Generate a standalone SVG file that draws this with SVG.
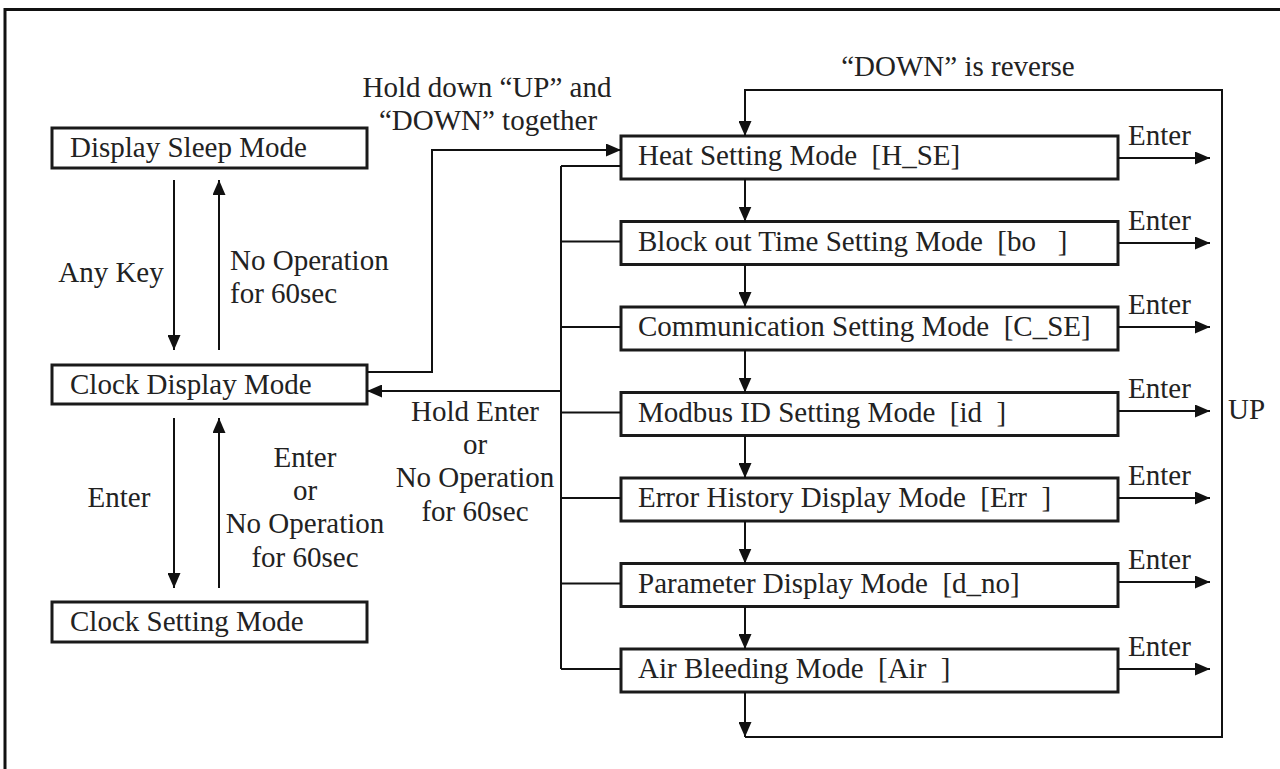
<svg xmlns="http://www.w3.org/2000/svg" width="1280" height="769" viewBox="0 0 1280 769">
<style>
text{font-family:"Liberation Serif","Times New Roman",serif;font-size:29px;fill:#222;white-space:pre}
.c{text-anchor:middle}
.box{fill:#fff;stroke:#1a1a1a;stroke-width:3}
.ln{fill:none;stroke:#111;stroke-width:2}
.ar{fill:none;stroke:#111;stroke-width:2;marker-end:url(#ah)}
</style>
<defs>
<marker id="ah" markerUnits="userSpaceOnUse" markerWidth="15" markerHeight="13" refX="15" refY="6.5" orient="auto">
<path d="M0,0 L15,6.5 L0,13 Z" fill="#111"/>
</marker>
</defs>
<rect width="1280" height="769" fill="#fff"/>
<path d="M5,769 V9.5 H1280" fill="none" stroke="#111" stroke-width="3"/>

<g id="node-sleep"><rect class="box" x="52" y="128" width="315" height="40"/><text x="70" y="157">Display Sleep Mode</text></g>
<g id="node-clock-display"><rect class="box" x="52" y="365" width="315" height="39"/><text x="70" y="394">Clock Display Mode</text></g>
<g id="node-clock-setting"><rect class="box" x="52" y="602" width="315" height="40"/><text x="70" y="631">Clock Setting Mode</text></g>

<g id="node-heat"><rect class="box" x="621" y="136" width="497" height="43"/><text x="638" y="165">Heat Setting Mode  [H_SE]</text></g>
<g id="node-block"><rect class="box" x="621" y="221.5" width="497" height="43"/><text x="638" y="250.5">Block out Time Setting Mode  [bo   ]</text></g>
<g id="node-comm"><rect class="box" x="621" y="307" width="497" height="43"/><text x="638" y="336">Communication Setting Mode  [C_SE]</text></g>
<g id="node-modbus"><rect class="box" x="621" y="392.5" width="497" height="43"/><text x="638" y="421.5">Modbus ID Setting Mode  [id  ]</text></g>
<g id="node-error"><rect class="box" x="621" y="478" width="497" height="43"/><text x="638" y="507">Error History Display Mode  [Err  ]</text></g>
<g id="node-param"><rect class="box" x="621" y="563.5" width="497" height="43"/><text x="638" y="592.5">Parameter Display Mode  [d_no]</text></g>
<g id="node-air"><rect class="box" x="621" y="649" width="497" height="43"/><text x="638" y="678">Air Bleeding Mode  [Air  ]</text></g>

<g id="connectors">
<line class="ar" x1="174" y1="180" x2="174" y2="350"/>
<line class="ar" x1="219" y1="350" x2="219" y2="180"/>
<line class="ar" x1="174" y1="418" x2="174" y2="588"/>
<line class="ar" x1="219" y1="588" x2="219" y2="418"/>
<polyline class="ar" points="367,372 432,372 432,150 621,150"/>
<line class="ln" x1="561" y1="166" x2="561" y2="669"/>
<line class="ln" x1="561" y1="166" x2="621" y2="166"/>
<line class="ln" x1="561" y1="241.5" x2="621" y2="241.5"/>
<line class="ln" x1="561" y1="327" x2="621" y2="327"/>
<line class="ln" x1="561" y1="412.5" x2="621" y2="412.5"/>
<line class="ln" x1="561" y1="498" x2="621" y2="498"/>
<line class="ln" x1="561" y1="583.5" x2="621" y2="583.5"/>
<line class="ln" x1="561" y1="669" x2="621" y2="669"/>
<line class="ar" x1="561" y1="391" x2="367" y2="391"/>
<line class="ar" x1="745" y1="179" x2="745" y2="221.5"/>
<line class="ar" x1="745" y1="264.5" x2="745" y2="307"/>
<line class="ar" x1="745" y1="350" x2="745" y2="392.5"/>
<line class="ar" x1="745" y1="435.5" x2="745" y2="478"/>
<line class="ar" x1="745" y1="521" x2="745" y2="563.5"/>
<line class="ar" x1="745" y1="606.5" x2="745" y2="649"/>
<line class="ar" x1="745" y1="692" x2="745" y2="737"/>
<polyline class="ar" points="745,737 1222,737 1222,90 745,90 745,136"/>
<line class="ar" x1="1118" y1="158" x2="1210" y2="158"/>
<line class="ar" x1="1118" y1="243" x2="1210" y2="243"/>
<line class="ar" x1="1118" y1="327" x2="1210" y2="327"/>
<line class="ar" x1="1118" y1="411" x2="1210" y2="411"/>
<line class="ar" x1="1118" y1="498" x2="1210" y2="498"/>
<line class="ar" x1="1118" y1="582" x2="1210" y2="582"/>
<line class="ar" x1="1118" y1="669" x2="1210" y2="669"/>
</g>

<g id="labels">
<text class="c" x="111" y="282">Any Key</text>
<text x="230" y="270">No Operation</text>
<text x="230" y="303">for 60sec</text>
<text class="c" x="119" y="507">Enter</text>
<text class="c" x="305" y="467">Enter</text>
<text class="c" x="305" y="500">or</text>
<text class="c" x="305" y="533">No Operation</text>
<text class="c" x="305" y="567">for 60sec</text>
<text class="c" x="475" y="421">Hold Enter</text>
<text class="c" x="475" y="454">or</text>
<text class="c" x="475" y="487">No Operation</text>
<text class="c" x="475" y="521">for 60sec</text>
<text class="c" x="487" y="97">Hold down “UP” and</text>
<text class="c" x="488" y="130">“DOWN” together</text>
<text class="c" x="958" y="76">“DOWN” is reverse</text>
<text x="1128" y="145">Enter</text>
<text x="1128" y="230">Enter</text>
<text x="1128" y="314">Enter</text>
<text x="1128" y="398">Enter</text>
<text x="1128" y="485">Enter</text>
<text x="1128" y="569">Enter</text>
<text x="1128" y="656">Enter</text>
<text x="1228" y="419">UP</text>
</g>
</svg>
